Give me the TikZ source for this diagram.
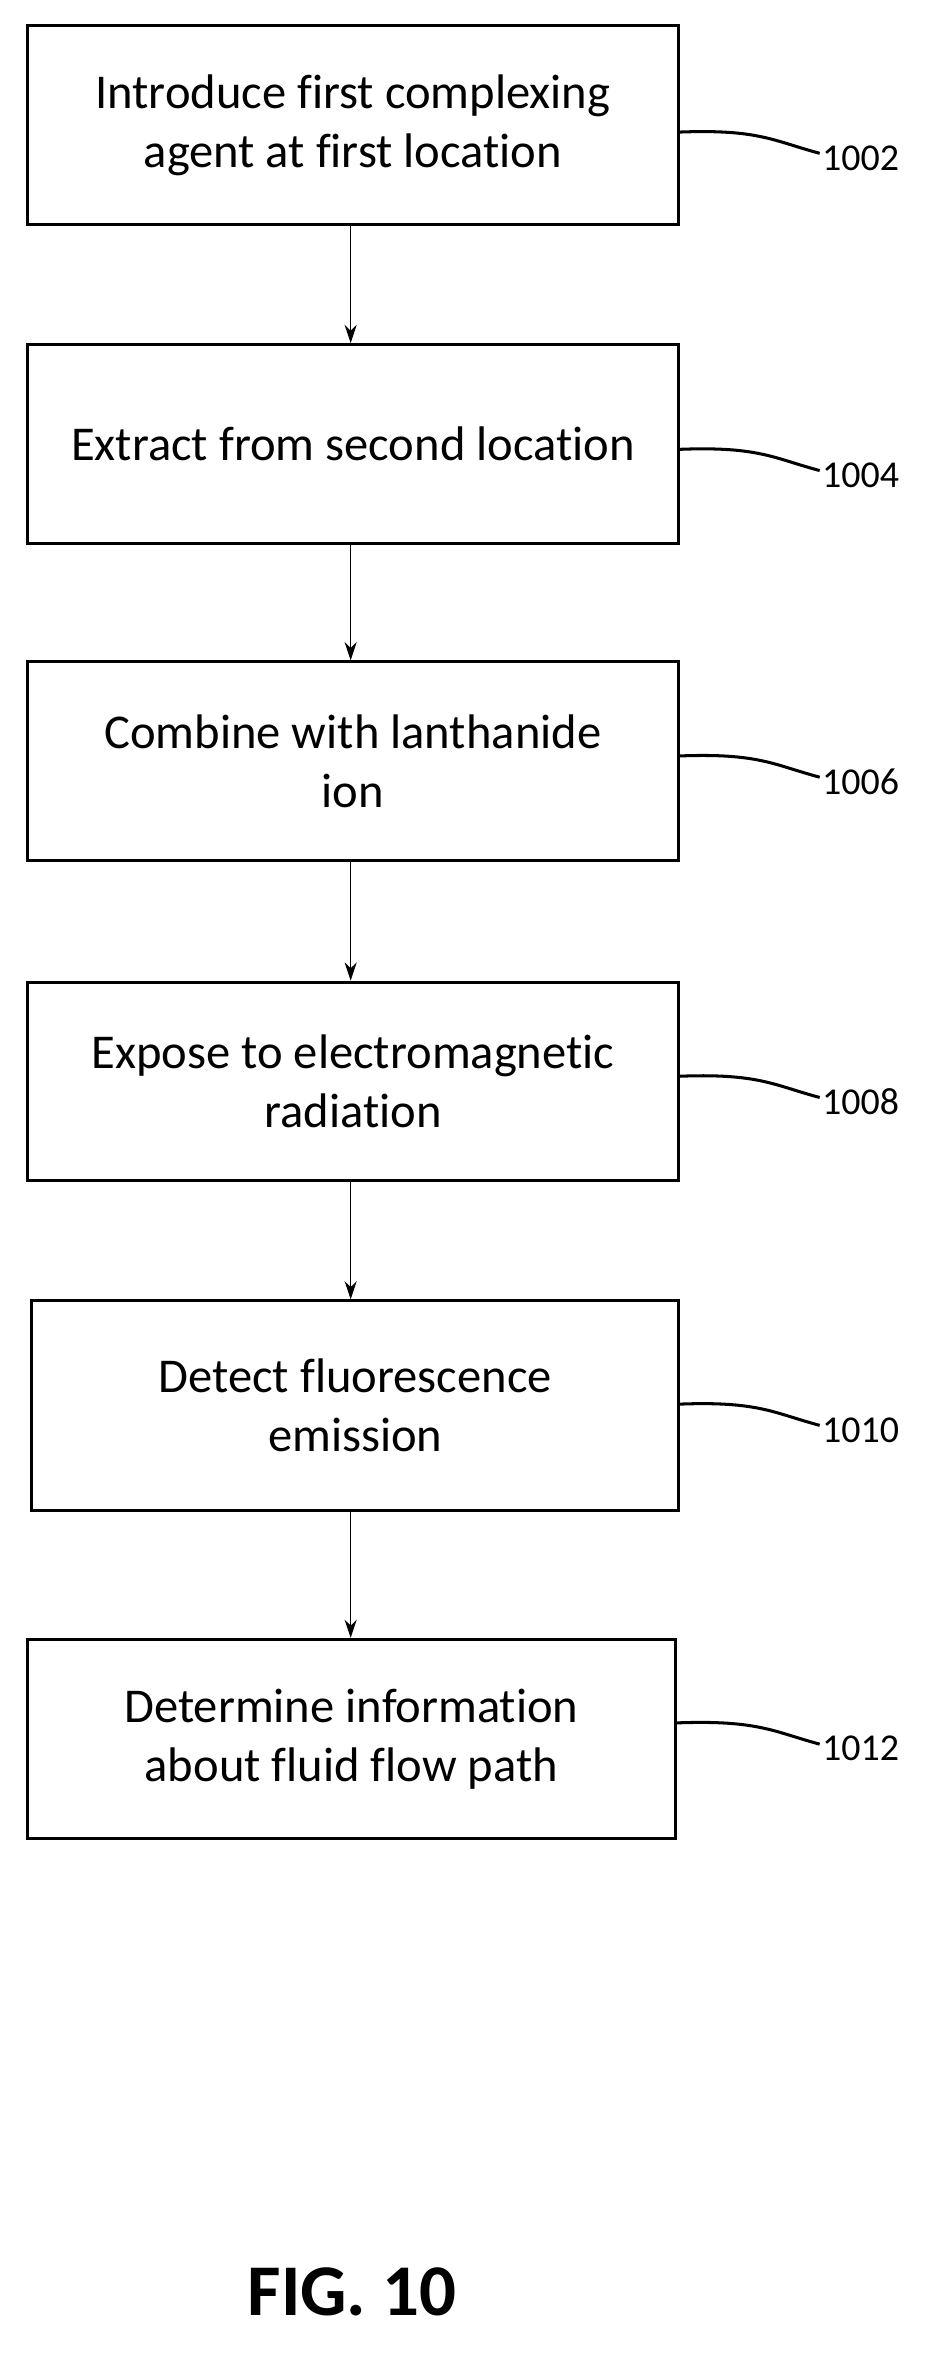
\documentclass[tikz,border=0pt]{standalone}
\usepackage{fontspec}
\setmainfont[Ligatures=NoCommon]{Carlito}
\usetikzlibrary{arrows.meta}
\begin{document}
\begin{tikzpicture}[x=1pt,y=-1pt,
  box/.style={draw,line width=2pt,minimum width=429pt,minimum height=131pt,inner sep=0pt,align=center,font=\fontsize{32}{39}\selectfont,anchor=north west},
  arr/.style={-{Stealth[length=12pt,width=8pt]},line width=1pt},
  lead/.style={line width=2pt},
  lab/.style={font=\fontsize{25}{28}\selectfont,anchor=west}]
\useasboundingbox (0,0) rectangle (612,1560);
\node[box] (b1) at (17,16) {Introduce first complexing\\agent at first location};
\node[box] (b2) at (17,226) {Extract from second location};
\node[box] (b3) at (17,435) {Combine with lanthanide\\ion};
\node[box] (b4) at (17,646) {Expose to electromagnetic\\radiation};
\node[box,minimum width=426pt,minimum height=138pt] (b5) at (20,856) {Detect fluorescence\\emission};
\node[box,minimum width=427pt] (b6) at (17,1079) {Determine information\\about fluid flow path};
\foreach \a/\b in {b1/b2,b2/b3,b3/b4,b4/b5,b5/b6}
  \draw[arr] (\a.south -| 231,0) -- (\b.north -| 231,0);
\foreach \n/\y/\t in {b1/87/1002,b2/296/1004,b3/498/1006,b4/709/1008,b5/925/1010,b6/1135/1012}{
  \coordinate (e\n) at (540,\y+14);
  \draw[lead] (\n.east |- 0,\y) .. controls (500,\y-2) and (510,\y+6) .. (e\n);
  \node[lab] (l\n) at (538,\y+17) {\t};
}
\node[font=\bfseries\fontsize{48}{54}\selectfont] (fig) at (232,1510) {FIG. 10};
\end{tikzpicture}
\end{document}
